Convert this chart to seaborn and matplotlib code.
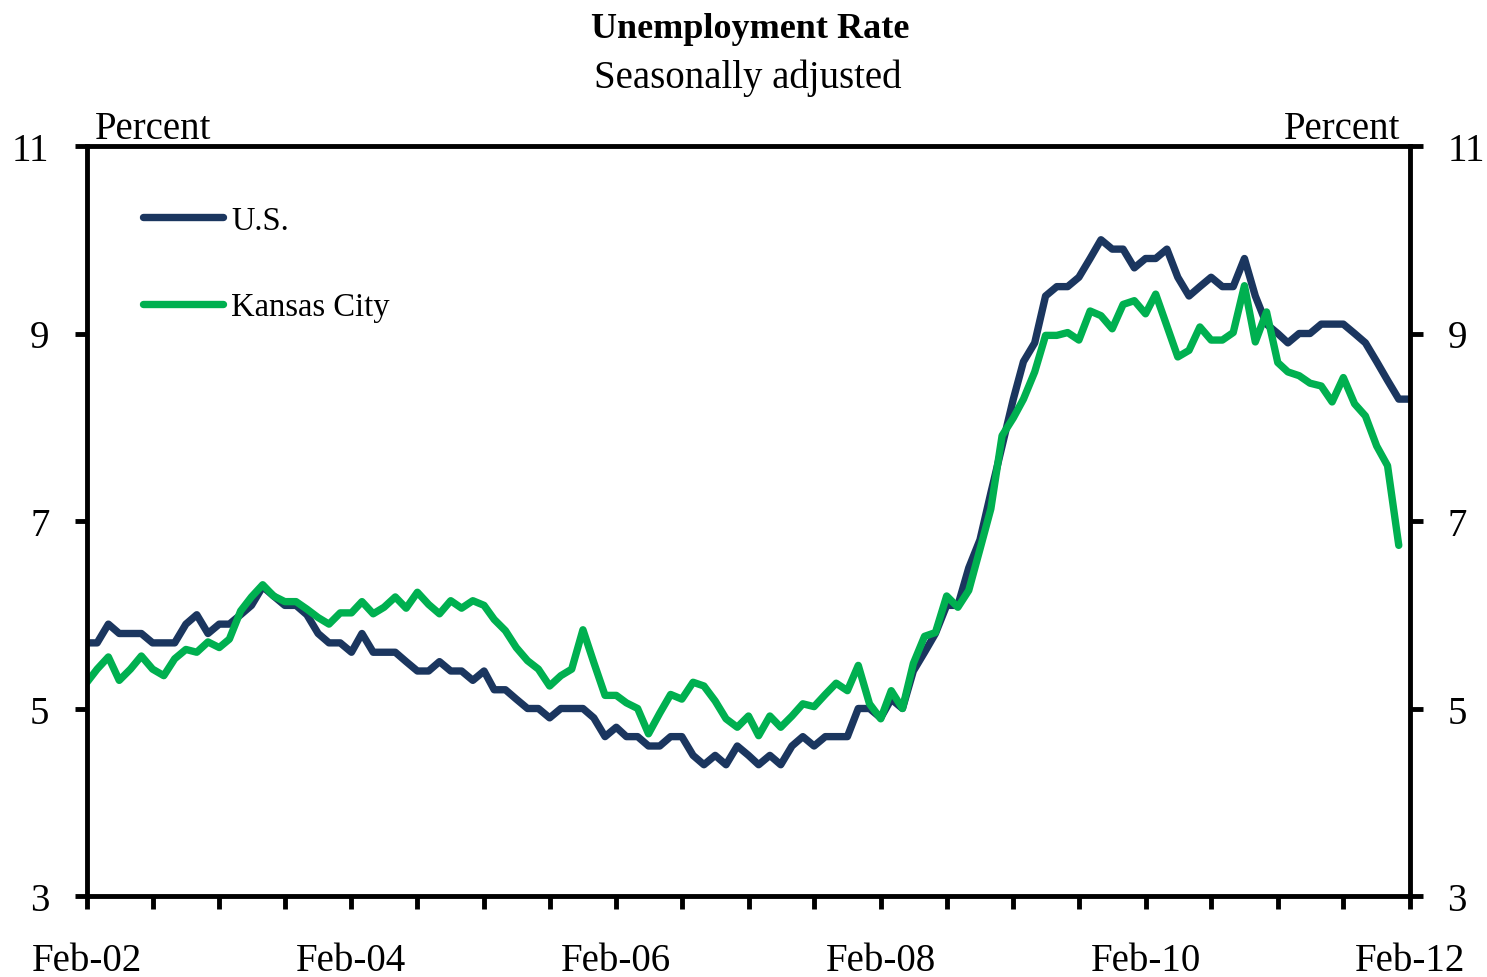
import pandas as pd
import matplotlib
matplotlib.use('Agg')
import matplotlib.pyplot as plt
import matplotlib.dates as mdates
import seaborn as sns

# monthly, Feb-2002 onward
us_rate = [
    5.7, 5.7, 5.9, 5.8, 5.8, 5.8, 5.7, 5.7, 5.7, 5.9, 6.0,
    5.8, 5.9, 5.9, 6.0, 6.1, 6.3, 6.2, 6.1, 6.1, 6.0, 5.8, 5.7,
    5.7, 5.6, 5.8, 5.6, 5.6, 5.6, 5.5, 5.4, 5.4, 5.5, 5.4, 5.4,
    5.3, 5.4, 5.2, 5.2, 5.1, 5.0, 5.0, 4.9, 5.0, 5.0, 5.0, 4.9,
    4.7, 4.8, 4.7, 4.7, 4.6, 4.6, 4.7, 4.7, 4.5, 4.4, 4.5, 4.4,
    4.6, 4.5, 4.4, 4.5, 4.4, 4.6, 4.7, 4.6, 4.7, 4.7, 4.7, 5.0,
    5.0, 4.9, 5.1, 5.0, 5.4, 5.6, 5.8, 6.1, 6.1, 6.5, 6.8, 7.3,
    7.8, 8.3, 8.7, 8.9, 9.4, 9.5, 9.5, 9.6, 9.8, 10.0, 9.9, 9.9,
    9.7, 9.8, 9.8, 9.9, 9.6, 9.4, 9.5, 9.6, 9.5, 9.5, 9.8, 9.4,
    9.1, 9.0, 8.9, 9.0, 9.0, 9.1, 9.1, 9.1, 9.0, 8.9, 8.7, 8.5,
    8.3, 8.3,
]

# Kansas City series stops one month earlier (Jan-2012)
kc_rate = [
    5.28, 5.42, 5.55, 5.30, 5.42, 5.56, 5.42, 5.35, 5.53, 5.63, 5.60,
    5.71, 5.65, 5.74, 6.04, 6.19, 6.32, 6.20, 6.14, 6.14, 6.06, 5.97, 5.90,
    6.02, 6.02, 6.14, 6.01, 6.08, 6.19, 6.07, 6.24, 6.11, 6.01, 6.15, 6.07,
    6.15, 6.10, 5.95, 5.83, 5.65, 5.51, 5.42, 5.24, 5.35, 5.42, 5.84, 5.49,
    5.14, 5.14, 5.06, 5.00, 4.73, 4.95, 5.15, 5.10, 5.28, 5.24, 5.08, 4.89,
    4.80, 4.92, 4.71, 4.92, 4.80, 4.92, 5.05, 5.02, 5.15, 5.27, 5.19, 5.46,
    5.05, 4.89, 5.19, 5.00, 5.48, 5.77, 5.81, 6.20, 6.08, 6.26, 6.70, 7.13,
    7.91, 8.10, 8.30, 8.59, 8.98, 8.98, 9.01, 8.93, 9.24, 9.19, 9.05, 9.31,
    9.35, 9.21, 9.42, 9.08, 8.75, 8.82, 9.07, 8.93, 8.93, 9.01, 9.51, 8.91,
    9.23, 8.69, 8.59, 8.55, 8.47, 8.44, 8.27, 8.53, 8.25, 8.12, 7.80, 7.59,
    6.74,
]

series_names = ['U.S.', 'Kansas City']
series_colors = ['#1b365f', '#00b050']
y_ticks = [3, 5, 7, 9, 11]

months = pd.date_range('2002-02-01', periods=len(us_rate), freq='MS')
df = pd.concat([
    pd.DataFrame({'date': months, 'rate': us_rate, 'series': series_names[0]}),
    pd.DataFrame({'date': months[:len(kc_rate)], 'rate': kc_rate,
                  'series': series_names[1]}),
])

sns.set_style('white')
plt.rcParams['font.family'] = ['Liberation Serif', 'DejaVu Serif']
plt.rcParams['text.color'] = 'black'
plt.rcParams['xtick.color'] = 'black'
plt.rcParams['ytick.color'] = 'black'

fig = plt.figure(figsize=(14.87, 9.78), dpi=100)
ax = fig.add_axes([87 / 1487, 1 - 897 / 978, 1323 / 1487, 750 / 978])

sns.lineplot(data=df, x='date', y='rate', hue='series',
             palette=dict(zip(series_names, series_colors)),
             linewidth=5.3, ax=ax)
for line in ax.get_lines():
    line.set_solid_joinstyle('round')
    line.set_solid_capstyle('round')

ax.set_ylim(3, 11)
ax.set_yticks(y_ticks)
ax.set_xlabel('')
ax.set_ylabel('')

# ticks every six months, labels every second February
ax.xaxis.set_major_locator(mdates.MonthLocator(bymonth=[2, 8]))
ticks = ax.get_xticks()
labels = []
for t in ticks:
    d = mdates.num2date(t)
    labels.append(d.strftime('%b-%y') if d.month == 2 and d.year % 2 == 0 else '')
ax.set_xticks(ticks)
ax.set_xticklabels(labels)
ax.set_xlim(months[0], months[-1])

for spine in ax.spines.values():
    spine.set_visible(True)
    spine.set_color('black')
    spine.set_linewidth(3.5)

ax.tick_params(axis='x', direction='out', length=9, width=3.5,
               labelsize=28, pad=24, bottom=True)
ax.tick_params(axis='y', direction='out', length=9, width=3.5,
               labelsize=28, pad=18, left=True, right=True, labelright=True)

ax.legend(loc='upper left', bbox_to_anchor=(143 / 1487, 1 - 206 / 978),
          bbox_transform=fig.transFigure, frameon=False, fontsize=23.5,
          handlelength=2.45, handletextpad=0.25, labelspacing=1.72,
          borderpad=0, borderaxespad=0)

fig.text(750 / 1487, 1 - 38 / 978, 'Unemployment Rate', ha='center',
         va='baseline', fontsize=26, fontweight='bold')
fig.text(748 / 1487, 1 - 88 / 978, 'Seasonally adjusted', ha='center',
         va='baseline', fontsize=28)
fig.text(95 / 1487, 1 - 139 / 978, 'Percent', ha='left', va='baseline',
         fontsize=28)
fig.text(1400 / 1487, 1 - 139 / 978, 'Percent', ha='right', va='baseline',
         fontsize=28)

fig.savefig('out.png', dpi=100)
